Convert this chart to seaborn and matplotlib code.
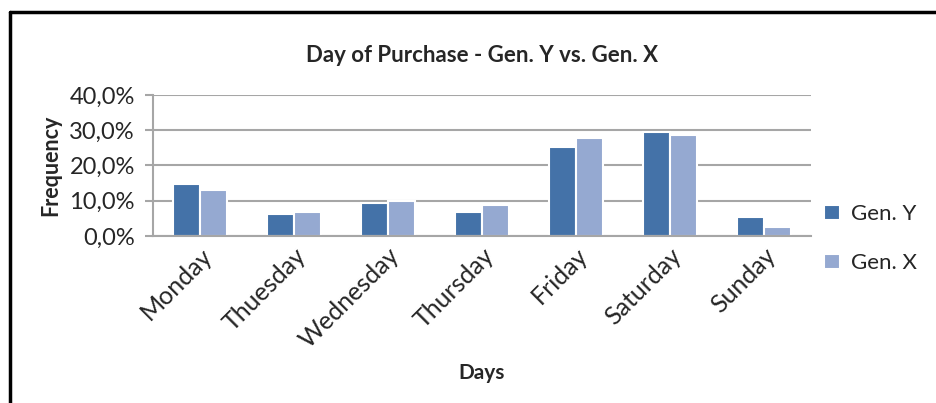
import pandas as pd
import matplotlib.pyplot as plt
import seaborn as sns
from matplotlib.ticker import FuncFormatter
from matplotlib.lines import Line2D

# Chart data
days = ['Monday', 'Thuesday', 'Wednesday', 'Thursday', 'Friday', 'Saturday', 'Sunday']
gen_y = [14.7, 6.2, 9.3, 6.7, 25.3, 29.6, 5.3]
gen_x = [13.0, 6.7, 9.9, 8.8, 27.8, 28.6, 2.6]

df = pd.DataFrame({'Days': days * 2,
                   'Frequency': gen_y + gen_x,
                   'Group': ['Gen. Y'] * len(days) + ['Gen. X'] * len(days)})

sns.set_style('white')
plt.rcParams['font.family'] = ['Lato', 'DejaVu Sans']

fig = plt.figure(figsize=(9.37, 4.03), dpi=100)
ax = fig.add_axes([0.1633, 0.4144, 0.7022, 0.3499])

sns.barplot(data=df, x='Days', y='Frequency', hue='Group',
            palette=['#4472A8', '#95A9D1'], saturation=1, width=0.57,
            edgecolor='white', linewidth=1.5, ax=ax)

ax.set_ylim(0, 40)
ax.set_yticks([0, 10, 20, 30, 40])
ax.yaxis.set_major_formatter(FuncFormatter(lambda v, p: f'{v:.1f}%'.replace('.', ',')))
ax.yaxis.grid(True, color='#A6A6A6', linewidth=1.5)
ax.set_axisbelow(True)
ax.set_xlim(-0.5, 6.5)

for s in ['top', 'right']:
    ax.spines[s].set_visible(False)
for s in ['left', 'bottom']:
    ax.spines[s].set_color('#A6A6A6')
    ax.spines[s].set_linewidth(1.5)

ax.tick_params(axis='y', which='major', left=True, length=6, width=1.5,
               color='#A6A6A6', labelsize=17, pad=7)
ax.tick_params(axis='x', bottom=False, labelsize=18, pad=2)
plt.setp(ax.get_xticklabels(), rotation=45, ha='right', rotation_mode='anchor')

ax.set_xlabel('Days', fontsize=15, fontweight='bold', labelpad=8)
ax.set_ylabel('Frequency', fontsize=15.5, fontweight='bold', labelpad=6)
ax.set_title('Day of Purchase - Gen. Y vs. Gen. X', fontsize=16,
             fontweight='bold', pad=24)

leg = ax.legend(loc='center left', bbox_to_anchor=(0.99, -0.02), frameon=False,
                fontsize=16, handlelength=0.7, handleheight=0.7,
                labelspacing=1.3, handletextpad=0.5)

# chart border (left and top)
fig.add_artist(Line2D([0.0107, 0.0107], [0.0, 0.97], color='black', linewidth=2.5,
                      transform=fig.transFigure))
fig.add_artist(Line2D([0.0107, 1.0], [0.97, 0.97], color='black', linewidth=2.5,
                      transform=fig.transFigure))

fig.savefig('out.png', dpi=100)
